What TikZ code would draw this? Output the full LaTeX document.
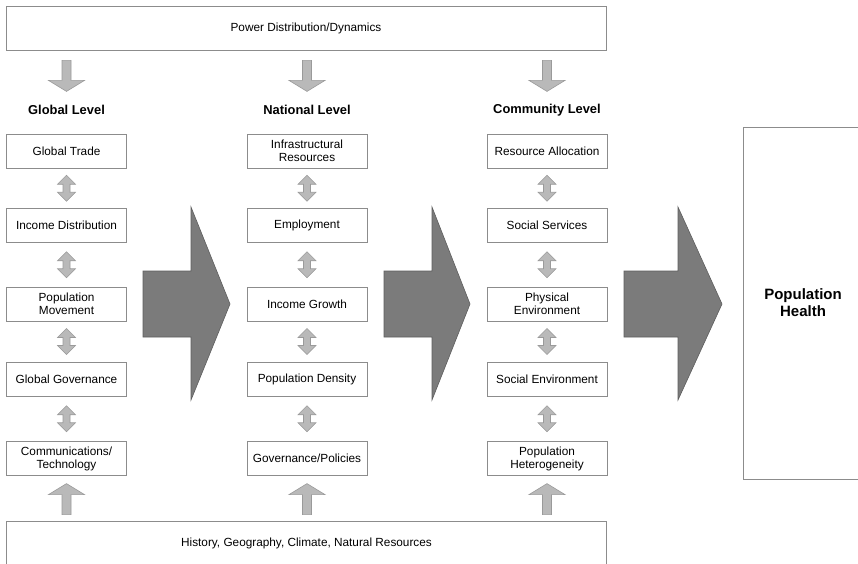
\documentclass[tikz,border=0pt]{standalone}
\usepackage{fontspec}
\setmainfont{Liberation Sans}
\usetikzlibrary{positioning, calc}

\definecolor{boxline}{HTML}{8C8C8C}
\definecolor{lightarr}{HTML}{B9B9B9}
\definecolor{lightedge}{HTML}{9A9A9A}
\definecolor{darkarr}{HTML}{7B7B7B}
\definecolor{darkedge}{HTML}{5E5E5E}

\tikzset{
	box/.style={draw=boxline, fill=white, line width=0.8pt, minimum width=120pt, minimum height=34pt,
		inner sep=1pt, align=center, font=\fontsize{11.8}{13}\selectfont},
	lvl/.style={font=\fontsize{12.9}{15}\selectfont\bfseries},
	band/.style={draw=boxline, line width=0.8pt, minimum width=600pt, minimum height=44pt,
		font=\fontsize{11.8}{13}\selectfont},
	light/.style={fill=lightarr, draw=lightedge, line width=0.6pt},
	dark/.style={fill=darkarr, draw=darkedge, line width=0.6pt},
	pics/downarr/.style={code={
		\filldraw[light] (-4.5,0) -- (4.5,0) -- (4.5,20) -- (18,20) -- (0,31) -- (-18,20) -- (-4.5,20) -- cycle;}},
	pics/uparr/.style={code={
		\filldraw[light] (-4.5,0) -- (4.5,0) -- (4.5,-20) -- (18,-20) -- (0,-31) -- (-18,-20) -- (-4.5,-20) -- cycle;}},
	pics/updown/.style={code={
		\filldraw[light] (0,-13) -- (9,-4) -- (3.5,-4) -- (3.5,4) -- (9,4) -- (0,13) -- (-9,4) -- (-3.5,4) -- (-3.5,-4) -- (-9,-4) -- cycle;}}
}

\begin{document}
\begin{tikzpicture}[x=1pt, y=-1pt]
	\useasboundingbox (0,0) rectangle (858,563);
	\fill[white] (0,0) rectangle (858,563);

	% bands
	\node[band] (top) at (306,28) {Power Distribution/Dynamics};
	\node[band] (bot) at (306.5,543) {History, Geography, Climate, Natural Resources};

	% level headings
	\node[lvl] (gl) at (66.5,110) {Global Level};
	\node[lvl] (nl) at (307,110) {National Level};
	\node[lvl] (cl) at (547,110) {Community Level};

	% global level
	\node[box] (g1) at (66.5,151) {Global Trade};
	\node[box] (g2) at (66.5,225.5) {Income Distribution};
	\node[box] (g3) at (66.5,304) {Population\\Movement};
	\node[box] (g4) at (66.5,379) {Global Governance};
	\node[box] (g5) at (66.5,458.5) {Communications/\\Technology};

	% national level
	\node[box] (n1) at (307,151) {Infrastructural\\Resources};
	\node[box] (n2) at (307,225.5) {Employment};
	\node[box] (n3) at (307,304) {Income Growth};
	\node[box] (n4) at (307,379) {Population Density};
	\node[box] (n5) at (307,458.5) {Governance/Policies};

	% community level
	\node[box] (c1) at (547,151) {Resource Allocation};
	\node[box] (c2) at (547,225.5) {Social Services};
	\node[box] (c3) at (547,304) {Physical\\Environment};
	\node[box] (c4) at (547,379) {Social Environment};
	\node[box] (c5) at (547,458.5) {Population\\Heterogeneity};

	\node[draw=boxline, line width=0.8pt, minimum width=120pt, minimum height=352pt, align=center,
		font=\fontsize{15}{17}\selectfont\bfseries] (ph) at (803,303) {Population\\Health};

	% arrows between boxes
	\foreach \c in {g,n,c}{
		\pic at (top.south -| \c1) [yshift=-10pt] {downarr};
		\pic at (bot.north -| \c5) [yshift=6pt] {uparr};
		\foreach \i [count=\j from 2] in {1,...,4}
			\pic at ($(\c\i.south)!0.5!(\c\j.north)$) {updown};
	}

	% big arrows
	\foreach \a/\b/\t in {143/191/230, 384/432/470, 624/678/722}
		\filldraw[dark] (\a,271) -- (\b,271) -- (\b,207) -- (\t,304) -- (\b,400) -- (\b,337) -- (\a,337) -- cycle;
\end{tikzpicture}
\end{document}
